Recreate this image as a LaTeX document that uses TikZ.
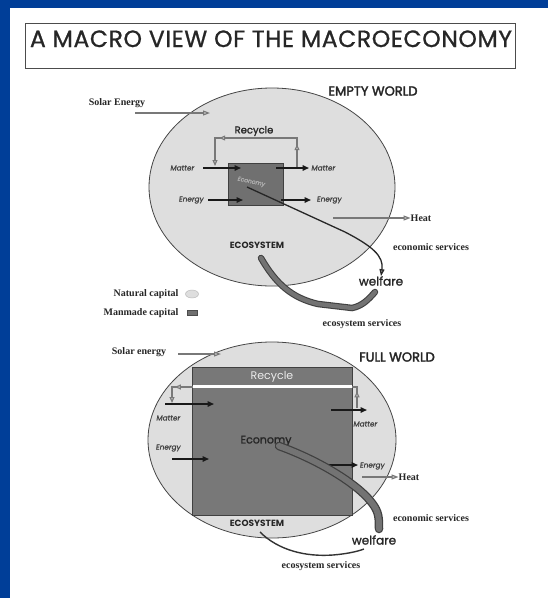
\documentclass[tikz,border=0pt]{standalone}
\usepackage{fontspec}
\usetikzlibrary{arrows.meta,decorations.markings,shapes.geometric}
\newfontfamily\futura{Poppins}
\newfontfamily\futuramed[FakeBold=1.5]{Poppins}
\newfontfamily\futuratitle[FakeBold=0.9,LetterSpace=2.5]{Poppins}
\newfontfamily\futurahead[FakeBold=2.5]{Poppins}
\newfontfamily\futuraslant[FakeSlant=0.15,FakeBold=0.8]{Poppins}
\newfontfamily\pal{Liberation Serif}
\definecolor{bgblue}{RGB}{0,62,152}
\definecolor{natcap}{RGB}{222,222,222}
\definecolor{mancap}{RGB}{112,112,112}
\definecolor{mancapB}{RGB}{120,120,120}
\definecolor{inkline}{RGB}{70,70,70}
\definecolor{grayarrow}{RGB}{120,120,120}
\tikzset{
  lbl/.style={inner sep=0pt, text=black!85, font=\pal\bfseries\fontsize{10}{12}\selectfont},
  sanslbl/.style={inner sep=0pt, text=black!85, font=\futuramed\fontsize{10}{12}\selectfont},
  headlbl/.style={inner sep=0pt, text=black!85, font=\futurahead\fontsize{13}{15}\selectfont},
  smalllbl/.style={inner sep=0pt, text=black!75, font=\futuraslant\fontsize{7.3}{9}\selectfont},
  world/.style={ellipse, draw=inkline, line width=0.8pt, fill=natcap, inner sep=0pt},
  econbox/.style={rectangle, draw=black!75, line width=0.8pt, fill=mancap, inner sep=0pt},
  flow/.style={draw=black!90, line width=1.5pt, -{Triangle[length=6.5pt,width=5.5pt]}},
  gflow/.style={draw=grayarrow, line width=1.1pt, -{Triangle[length=7pt,width=5pt,fill=gray!40]}},
  econarrow/.style={draw=black!85, line width=1.3pt, -{Triangle[length=7pt,width=5pt,fill=gray!50]}},
  recyc/.style={draw=grayarrow, line width=1.1pt},
  bandout/.style={draw=black!75, line cap=round},
  bandin/.style={draw=black!55, line cap=round},
}
\begin{document}
\begin{tikzpicture}[x=1pt,y=-1pt]
\useasboundingbox (0,0) rectangle (548,598);
\fill[bgblue] (0,0) rectangle (548,598);
\fill[white] (10,8) rectangle (548,598);

% title
\node[draw=black!70, line width=1pt, minimum width=490pt, minimum height=45pt, inner sep=0pt] (titlebox) at (270,45.5) {};
\node[anchor=base, inner sep=0pt, font=\futuratitle\fontsize{23.5}{28}\selectfont, text=black!85] (title) at (271,47) {A MACRO VIEW OF THE MACROECONOMY};

% ================= EMPTY WORLD =================
\node[world, minimum width=246pt, minimum height=198pt] (ew) at (272,187) {};
\node[headlbl] (ewt) at (373,91) {EMPTY WORLD};
\node[lbl] (solar1) at (117,103) {Solar Energy};
\coordinate (sol1a) at (135,113);
\coordinate (sol1b) at (210,113);
\draw[gflow] (sol1a) -- (sol1b);

\node[econbox, minimum width=55pt, minimum height=42pt] (eb1) at (255.5,184) {};
\node[inner sep=0pt, rotate=-12, text=black!30, font=\futuraslant\fontsize{6}{7}\selectfont] (ecotiny) at (251,182) {Economy};

\node[sanslbl] (rec1) at (254,131) {Recycle};
\coordinate (r1a) at (297,168);
\coordinate (r1b) at (297,138);
\coordinate (r1c) at (215,138);
\coordinate (r1d) at (215,166);
\draw[recyc, postaction={decorate, decoration={markings,
   mark=at position 0.17 with {\arrow{Triangle[length=6pt,width=5pt,fill=gray!40]}},
   mark=at position 0.77 with {\arrow{Triangle[length=6pt,width=5pt,fill=gray!40]}}}},
   -{Triangle[length=6pt,width=5pt,fill=gray!40]}]
   (r1a) -- (r1b) -- (r1c) -- (r1d);

\node[smalllbl] (m1l) at (182,168) {Matter};
\coordinate (m1la) at (203,168);
\coordinate (m1lb) at (241,168);
\draw[flow] (m1la) -- (m1lb);
\node[smalllbl] (m1r) at (323,168) {Matter};
\coordinate (m1ra) at (276,168);
\coordinate (m1rb) at (309,168);
\draw[flow] (m1ra) -- (m1rb);

\node[smalllbl] (e1l) at (191,200) {Energy};
\coordinate (e1la) at (208,200);
\coordinate (e1lb) at (243,200);
\draw[flow] (e1la) -- (e1lb);
\node[smalllbl] (e1r) at (329,200) {Energy};
\coordinate (e1ra) at (281,200);
\coordinate (e1rb) at (311,200);
\draw[flow] (e1ra) -- (e1rb);

\node[lbl] (heat1) at (421,218) {Heat};
\coordinate (h1a) at (333,218);
\draw[gflow] (h1a) -- (heat1.west);

\node[sanslbl, font=\futura\bfseries\fontsize{9}{11}\selectfont] (eco1) at (257,245) {ECOSYSTEM};
\node[lbl] (es1) at (431,247) {economic services};
\node[sanslbl, font=\futuramed\fontsize{12}{14}\selectfont] (wel1) at (381,281) {welfare};

\coordinate (ec1s) at (247,187);
\coordinate (ec1k) at (345,232);
\draw[econarrow] (ec1s) -- (ec1k) .. controls (372,246) and (384,256) .. (wel1.north);

\coordinate (b1s) at (261,258);
\coordinate (b1m) at (318,304);
\coordinate (b1n) at (352,308);
\coordinate (b1e) at (375,292);
\draw[bandout, line width=6.5pt] (b1s) .. controls (276,284) and (292,298) .. (b1m) -- (b1n) .. controls (362,306) and (368,300) .. (b1e);
\draw[bandin, line width=4.3pt] (b1s) .. controls (276,284) and (292,298) .. (b1m) -- (b1n) .. controls (362,306) and (368,300) .. (b1e);

\node[lbl] (ecos1) at (362,324) {ecosystem services};

% legend
\node[lbl] (natl) at (146,294) {Natural capital};
\node[ellipse, fill=natcap, draw=natcap!80!black, line width=0.4pt, minimum width=13pt, minimum height=8pt, inner sep=0pt] (natk) at (192,294) {};
\node[lbl] (manl) at (141,313) {Manmade capital};
\node[rectangle, fill=mancap, draw=black!70, line width=0.4pt, minimum width=10pt, minimum height=5pt, inner sep=0pt] (mank) at (192,313) {};

% ================= FULL WORLD =================
\node[world, minimum width=248pt, minimum height=196pt] (fw) at (272,440) {};
\node[headlbl] (fwt) at (397,357) {FULL WORLD};
\node[lbl] (solar2) at (139,352) {Solar energy};
\coordinate (sol2a) at (178,354);
\coordinate (sol2b) at (221,354);
\draw[gflow] (sol2a) -- (sol2b);

\node[econbox, fill=mancapB, minimum width=160pt, minimum height=148pt] (eb2) at (272,441) {};
\node[sanslbl, text=black!8, font=\futura\fontsize{11}{13}\selectfont] (rec2) at (272,377) {Recycle};

\coordinate (r2a) at (357,408);
\coordinate (r2b) at (357,387);
\coordinate (r2c) at (172,387);
\coordinate (r2d) at (172,403);
\draw[recyc, postaction={decorate, decoration={markings,
   mark=at position 0.075 with {\arrow{Triangle[length=6pt,width=5pt,fill=gray!40]}},
   mark=at position 0.915 with {\arrow{Triangle[length=6pt,width=5pt,fill=gray!40]}}}},
   -{Triangle[length=6pt,width=5pt,fill=gray!40]}]
   (r2a) -- (r2b) -- (r2c) -- (r2d);
\coordinate (w2a) at (192.5,386.5);
\coordinate (w2b) at (351.5,386.5);
\draw[white, line width=2.2pt] (w2a) -- (w2b);

\node[smalllbl] (m2l) at (168,418) {Matter};
\coordinate (m2la) at (165,404);
\coordinate (m2lb) at (214,404);
\draw[flow] (m2la) -- (m2lb);
\node[smalllbl] (m2r) at (365,424) {Matter};
\coordinate (m2ra) at (331,410);
\coordinate (m2rb) at (367,410);
\draw[flow] (m2ra) -- (m2rb);

\node[sanslbl, font=\futuramed\fontsize{11}{13}\selectfont, text=black!85] (eco2) at (266,441) {Economy};

\node[smalllbl] (e2l) at (168,448) {Energy};
\coordinate (e2la) at (172,459);
\coordinate (e2lb) at (209,459);
\draw[flow] (e2la) -- (e2lb);
\node[smalllbl] (e2r) at (372,466) {Energy};
\coordinate (e2ra) at (320,465);
\coordinate (e2rb) at (358,465);
\draw[flow] (e2ra) -- (e2rb);

\node[lbl] (heat2) at (409,477) {Heat};
\coordinate (h2a) at (362,477);
\draw[gflow] (h2a) -- (heat2.west);

\coordinate (b2s) at (279,446);
\coordinate (b2k) at (372,503);
\coordinate (b2e) at (379,529);
\draw[bandout, line width=8.5pt] (b2s) .. controls (318,460) and (358,484) .. (b2k) .. controls (379,512) and (379,518) .. (b2e);
\draw[bandin, line width=6pt] (b2s) .. controls (318,460) and (358,484) .. (b2k) .. controls (379,512) and (379,518) .. (b2e);

\node[sanslbl, font=\futura\bfseries\fontsize{9}{11}\selectfont] (eco2s) at (257,523) {ECOSYSTEM};
\node[lbl] (es2) at (431,518) {economic services};
\node[sanslbl, font=\futuramed\fontsize{12}{14}\selectfont] (wel2) at (374,540) {welfare};

\coordinate (c2s) at (260,532);
\coordinate (c2e) at (364,549);
\draw[draw=black!80, line width=1.4pt] (c2s) .. controls (278,550) and (305,557) .. (333,555) .. controls (345,554) and (356,552) .. (c2e);
\node[lbl] (ecos2) at (321,566) {ecosystem services};
\end{tikzpicture}
\end{document}
